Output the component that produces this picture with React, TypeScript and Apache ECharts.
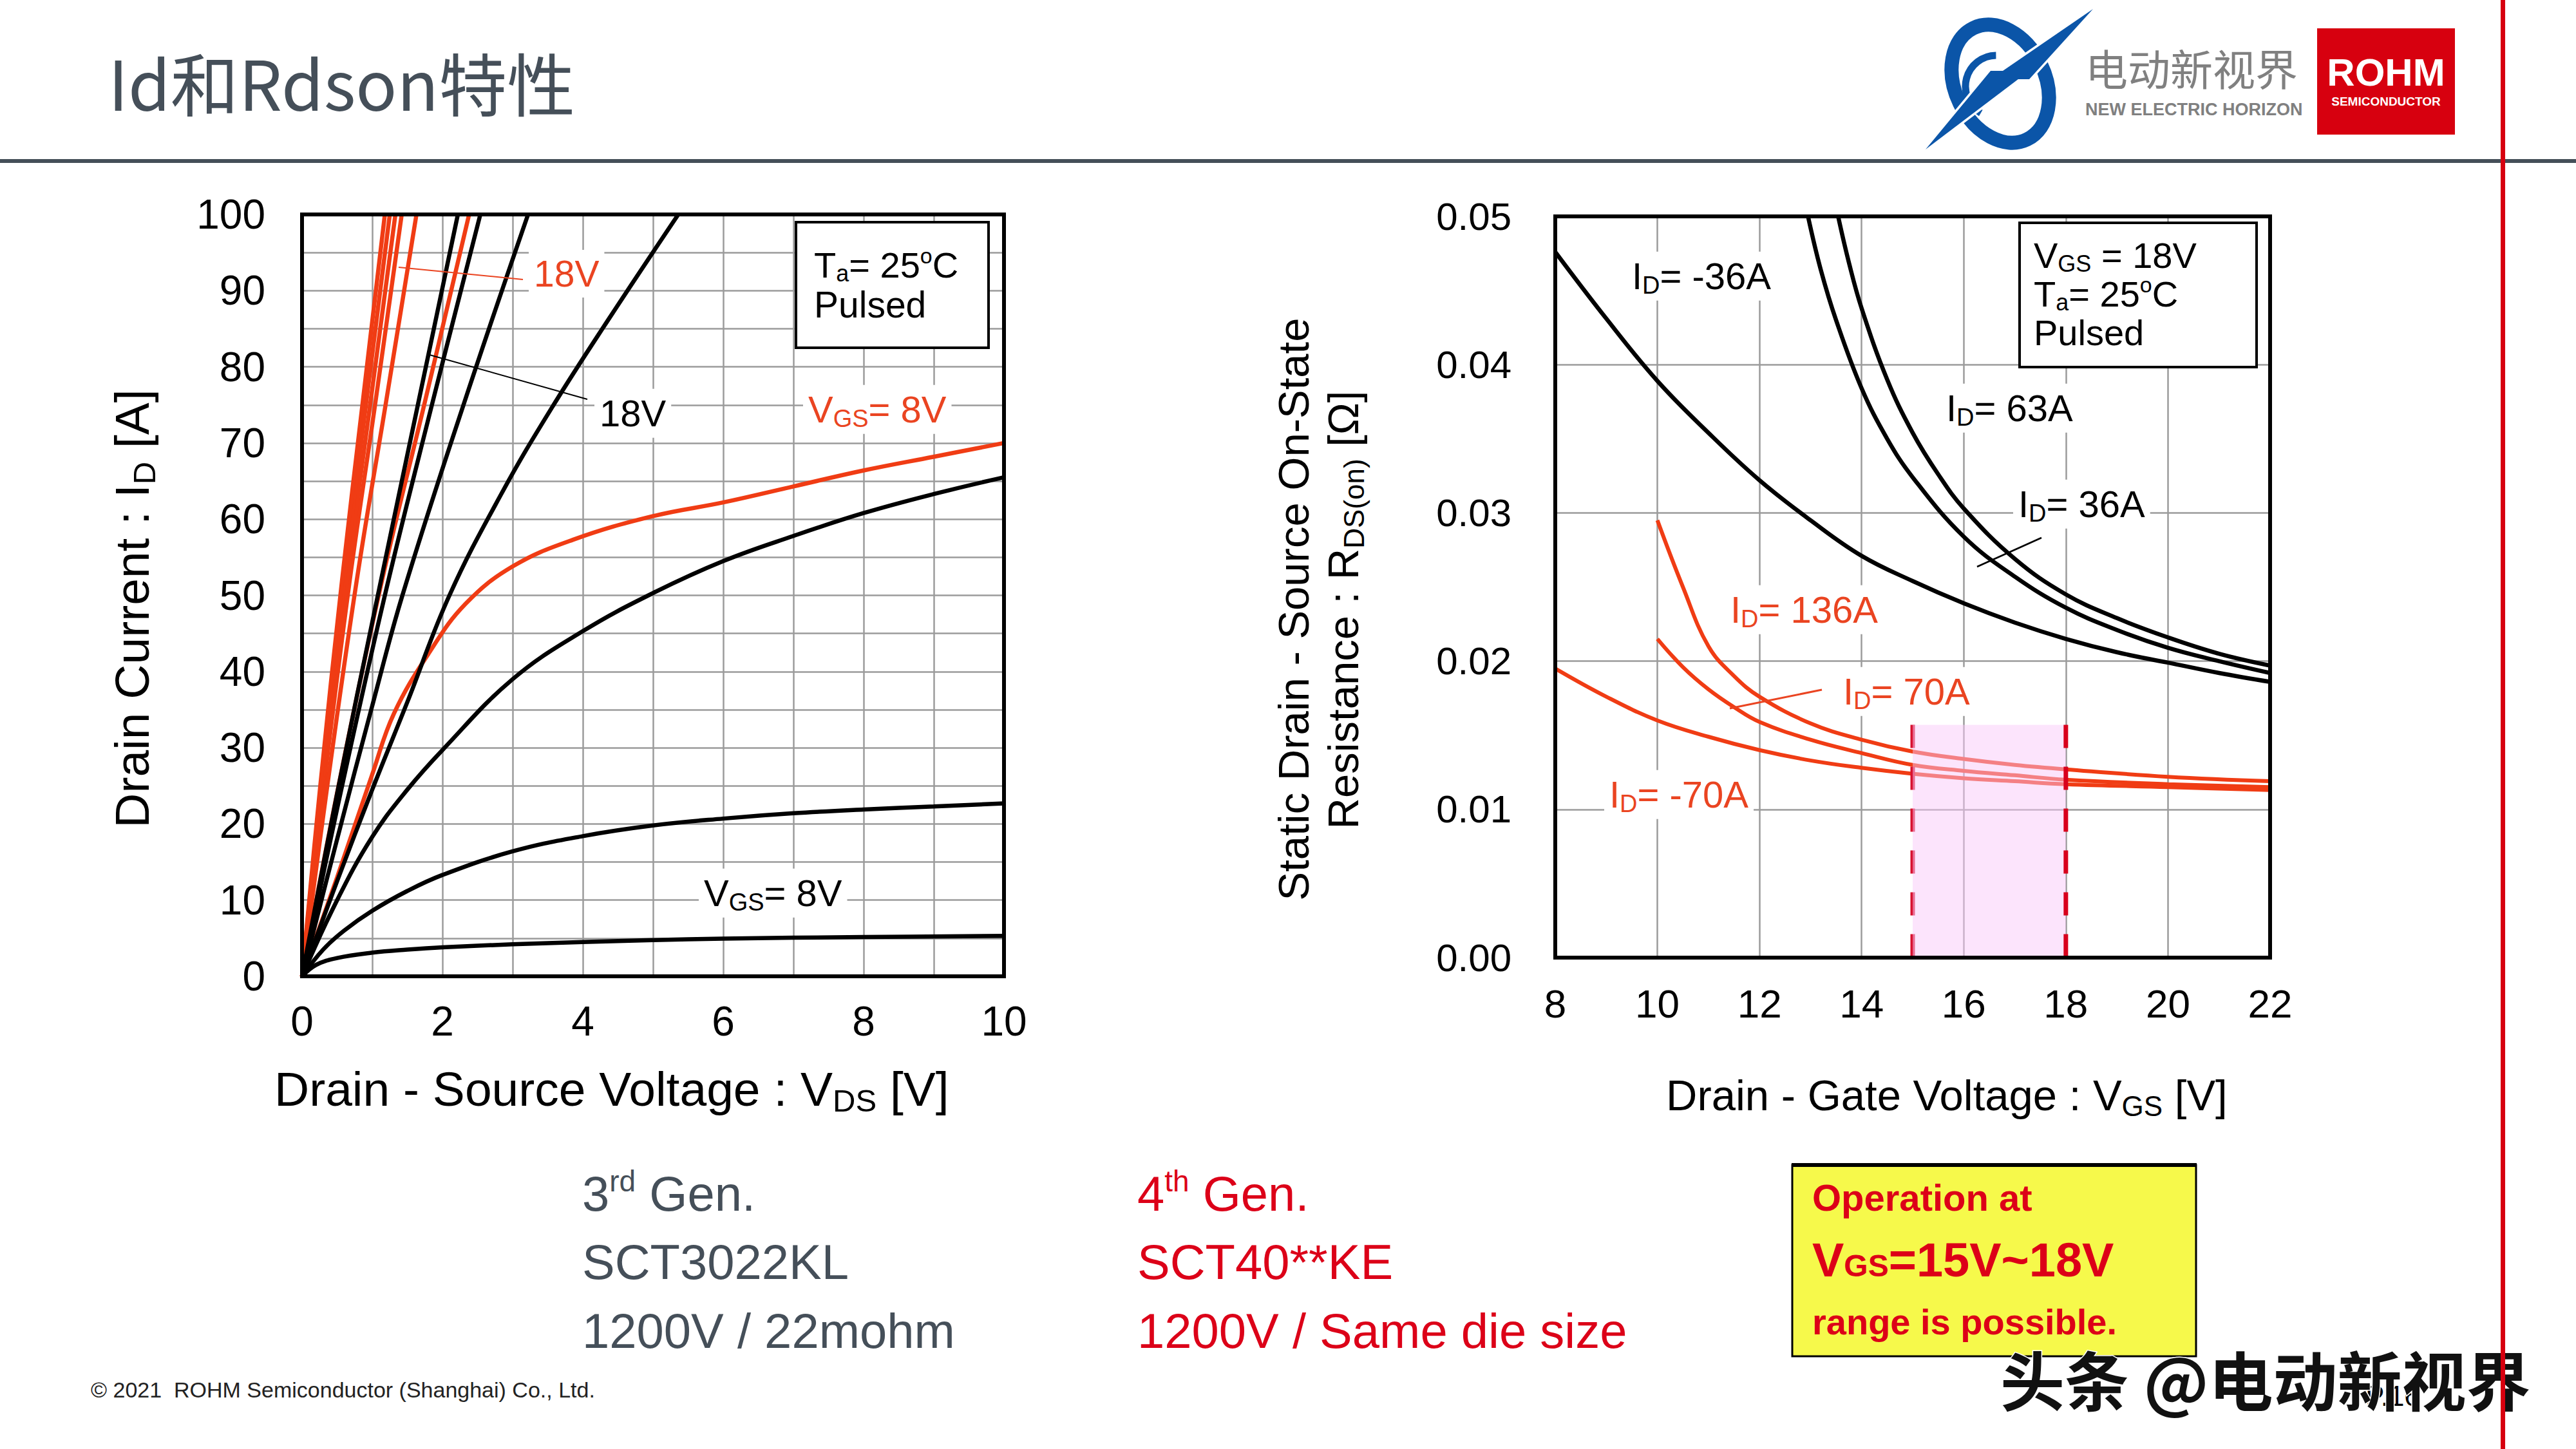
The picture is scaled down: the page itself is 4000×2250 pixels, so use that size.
import React, { useEffect, useRef } from "react";
import * as echarts from "echarts";

// ================= Left chart: Drain current vs drain-source voltage =================
const VDS_TICK_LABELS = [0, 2, 4, 6, 8, 10];
const ID_TICK_LABELS = [0, 10, 20, 30, 40, 50, 60, 70, 80, 90, 100];

// 3rd Gen. SCT3022KL (black curves) : [Vds (V), Id (A)]
const GEN3_VGS_8V = [[0, 0], [0.2, 1.5], [0.5, 2.4], [1, 3.1], [1.5, 3.5], [2, 3.8], [3, 4.2], [4, 4.5], [5, 4.75], [6, 4.95], [8, 5.15], [10, 5.3]];
const GEN3_VGS_10V = [[0, 0], [0.3, 3.5], [0.6, 6], [1, 8.6], [1.5, 11.2], [2, 13.3], [3, 16.4], [4, 18.4], [5, 19.8], [6, 20.7], [7, 21.4], [8, 21.9], [9, 22.3], [10, 22.7]];
const GEN3_VGS_12V = [[0, 0], [0.5, 10], [1, 18.3], [1.5, 24.5], [2, 29.7], [3, 39], [4, 45.3], [5, 50.3], [6, 54.5], [7, 57.8], [8, 60.8], [9, 63.3], [10, 65.5]];
const GEN3_VGS_14V = [[0, 0], [0.5, 12.5], [1, 24.5], [1.5, 36], [2.1, 50], [2.85, 63.5], [3.55, 74.5], [4.35, 86], [5.36, 100]];
const GEN3_VGS_16V = [[0, 0], [0.5, 18], [1, 35.5], [1.43, 50], [2.3, 75], [3.22, 100]];
const GEN3_VGS_18V = [[0, 0], [0.5, 22], [1.18, 50], [1.85, 75], [2.54, 100]];
const GEN3_VGS_20V = [[0, 0], [0.5, 24], [1.08, 50], [1.65, 75], [2.22, 100]];

// 4th Gen. SCT40**KE (red curves)
const GEN4_VGS_8V = [[0, 0], [0.5, 13], [1, 26.5], [1.31, 34.5], [1.82, 42.6], [2.33, 48.9], [3, 53.8], [3.86, 57.3], [5, 60.4], [6, 62.2], [7, 64.3], [8, 66.4], [9, 68.2], [10, 70]];
const GEN4_VGS_10V = [[0, 0], [0.52, 25], [1.14, 52], [1.74, 75], [2.38, 100]];
const GEN4_VGS_12V = [[0, 0], [0.36, 25], [0.78, 52], [1.19, 75], [1.63, 100]];
const GEN4_VGS_14V = [[0, 0], [0.31, 25], [0.68, 52], [1.04, 75], [1.42, 100]];
const GEN4_VGS_16V = [[0, 0], [0.29, 25], [0.64, 52], [0.97, 75], [1.33, 100]];
const GEN4_VGS_18V = [[0, 0], [0.275, 25], [0.6, 52], [0.91, 75], [1.25, 100]];
const GEN4_VGS_20V = [[0, 0], [0.26, 25], [0.57, 52], [0.86, 75], [1.18, 100]];

// ================= Right chart: Rds(on) vs gate voltage =================
const VGS_TICK_LABELS = [8, 10, 12, 14, 16, 18, 20, 22];
const RDS_TICK_LABELS = [0, 0.01, 0.02, 0.03, 0.04, 0.05];

// 3rd Gen. (black) : [Vgs (V), Rds(on) (ohm)]
const RDS_3G_ID_M36A = [[8, 0.0476], [9, 0.0431], [10, 0.0389], [11, 0.0354], [12, 0.0322], [13, 0.0295], [14, 0.0271], [15, 0.0254], [16, 0.0239], [17, 0.0226], [18, 0.0215], [19, 0.0206], [20, 0.0199], [21, 0.0192], [22, 0.0186]];
const RDS_3G_ID_36A = [[12.95, 0.05], [13.2, 0.0464], [13.5, 0.043], [14, 0.0384], [14.5, 0.035], [15, 0.0324], [16, 0.0284], [17, 0.0257], [18, 0.0236], [19, 0.0221], [20, 0.0209], [21, 0.02], [22, 0.0192]];
const RDS_3G_ID_63A = [[13.54, 0.05], [13.75, 0.0469], [14, 0.0438], [14.5, 0.039], [15, 0.0354], [15.5, 0.0326], [16, 0.0303], [17, 0.0269], [18, 0.0245], [19, 0.0229], [20, 0.0216], [21, 0.0205], [22, 0.0197]];
// 4th Gen. (red)
const RDS_4G_ID_136A = [[10, 0.0295], [10.5, 0.025], [11, 0.021], [11.5, 0.019], [12, 0.0176], [13, 0.0158], [14, 0.0147], [15, 0.0139], [16, 0.0134], [17, 0.013], [18, 0.0127], [20, 0.0122], [22, 0.0119]];
const RDS_4G_ID_70A = [[10, 0.0215], [10.5, 0.0196], [11, 0.0181], [11.5, 0.0169], [12, 0.0159], [13, 0.0147], [14, 0.0138], [15, 0.013], [16, 0.0126], [17, 0.0123], [18, 0.012], [20, 0.0117], [22, 0.0115]];
const RDS_4G_ID_M70A = [[8, 0.0195], [9, 0.0176], [10, 0.016], [11, 0.0149], [12, 0.014], [13, 0.0133], [14, 0.0128], [15, 0.0124], [16, 0.0121], [17, 0.0119], [18, 0.0117], [20, 0.0115], [22, 0.0113]];

// recommended operating window of VGS
const OP_RANGE_VGS = [15, 18];
const OP_RANGE_RDS_TOP = 0.0157;

// ================= styling =================
const AR = '"Liberation Sans", Arial, Helvetica, sans-serif';
const CJK = '"Noto Sans CJK SC", "Noto Sans", sans-serif';
const CURVE_RED = "#F03C14";
const LABEL_RED = "#EA4421";
const BRAND_RED = "#DC0018";
const SLATE = "#454F59";
const GRID_GRAY = "#9B9B9B";
const BLUE = "#0B55A8";

const GRID_L = { left: 469, top: 333, width: 1090, height: 1183 };
const GRID_R = { left: 2415, top: 336, width: 1110, height: 1151 };

function rich(F: number, color: string, weight: string = "normal") {
  const b = { fill: color, fontWeight: weight, fontFamily: AR };
  const s = Math.round(F * 0.65);
  const p = Math.round(F * 0.6);
  return {
    n: { ...b, fontSize: F, lineHeight: Math.round(F * 1.2) },
    s: { ...b, fontSize: s, lineHeight: s, verticalAlign: "top", padding: [Math.round(F * 0.52), 0, 0, 0] },
    p: { ...b, fontSize: p, lineHeight: p, verticalAlign: "top", padding: [Math.round(F * 0.04), 0, 0, 0] },
    c: { ...b, fontSize: s, lineHeight: s, verticalAlign: "top", padding: [Math.round(F * 0.4), 0, 0, 0] },
  };
}

function tx(x: number, baseline: number, text: string, F: number, color: string, opt: any = {}) {
  return {
    type: "text",
    z: opt.z ?? 120,
    x: opt.bg ? x - 8 : x,
    y: baseline - 0.35 * F,
    style: {
      text,
      rich: rich(F, color, opt.weight),
      fill: color,
      fontSize: F,
      fontFamily: AR,
      align: opt.align ?? "left",
      verticalAlign: "middle",
      backgroundColor: opt.bg,
      padding: opt.bg ? [3, 8, 3, 8] : 0,
    },
  };
}

function vtx(cx: number, cy: number, text: string, F: number, color: string) {
  return {
    type: "text",
    z: 120,
    x: cx,
    y: cy,
    rotation: Math.PI / 2,
    style: { text, rich: rich(F, color), fill: color, fontSize: F, fontFamily: AR, align: "center", verticalAlign: "middle" },
  };
}

function seg(x1: number, y1: number, x2: number, y2: number, color: string, w: number) {
  return { type: "line", z: 115, shape: { x1, y1, x2, y2 }, style: { stroke: color, lineWidth: w } };
}

function frame(g: any, w: number) {
  return { type: "rect", z: 100, shape: { x: g.left, y: g.top, width: g.width, height: g.height }, style: { fill: "none", stroke: "#000", lineWidth: w } };
}

function curve(name: string, data: number[][], color: string, width: number, axis: number, z: number) {
  return {
    type: "line",
    name,
    data,
    xAxisIndex: axis,
    yAxisIndex: axis,
    symbol: "none",
    showSymbol: false,
    smooth: 0.4,
    silent: true,
    clip: true,
    z,
    lineStyle: { color, width },
  };
}

function buildOption() {
  const gen4 = [
    ["4th Gen VGS=8V", GEN4_VGS_8V], ["4th Gen VGS=10V", GEN4_VGS_10V], ["4th Gen VGS=12V", GEN4_VGS_12V],
    ["4th Gen VGS=14V", GEN4_VGS_14V], ["4th Gen VGS=16V", GEN4_VGS_16V], ["4th Gen VGS=18V", GEN4_VGS_18V],
    ["4th Gen VGS=20V", GEN4_VGS_20V],
  ] as [string, number[][]][];
  const gen3 = [
    ["3rd Gen VGS=8V", GEN3_VGS_8V], ["3rd Gen VGS=10V", GEN3_VGS_10V], ["3rd Gen VGS=12V", GEN3_VGS_12V],
    ["3rd Gen VGS=14V", GEN3_VGS_14V], ["3rd Gen VGS=16V", GEN3_VGS_16V], ["3rd Gen VGS=18V", GEN3_VGS_18V],
    ["3rd Gen VGS=20V", GEN3_VGS_20V],
  ] as [string, number[][]][];
  const rdsBlack = [
    ["3rd Gen ID=-36A", RDS_3G_ID_M36A], ["3rd Gen ID=36A", RDS_3G_ID_36A], ["3rd Gen ID=63A", RDS_3G_ID_63A],
  ] as [string, number[][]][];
  const rdsRed = [
    ["4th Gen ID=136A", RDS_4G_ID_136A], ["4th Gen ID=70A", RDS_4G_ID_70A], ["4th Gen ID=-70A", RDS_4G_ID_M70A],
  ] as [string, number[][]][];

  const series: any[] = [
    ...gen4.map(([n, d]) => curve(n, d, CURVE_RED, 6.5, 0, 2)),
    ...gen3.map(([n, d]) => curve(n, d, "#000", 6.5, 0, 3)),
    ...rdsBlack.map(([n, d]) => curve(n, d, "#000", 6.5, 1, 2)),
    ...rdsRed.map(([n, d]) => curve(n, d, CURVE_RED, 6, 1, 2)),
    {
      type: "custom",
      name: "VGS operating range",
      xAxisIndex: 1,
      yAxisIndex: 1,
      z: 6,
      silent: true,
      data: [[OP_RANGE_VGS[0], OP_RANGE_VGS[1], OP_RANGE_RDS_TOP]],
      encode: { x: [0, 1], y: 2 },
      renderItem: (_p: any, api: any) => {
        const tl = api.coord([api.value(0), api.value(2)]);
        const br = api.coord([api.value(1), 0]);
        return {
          type: "group",
          children: [
            { type: "line", shape: { x1: tl[0], y1: tl[1], x2: tl[0], y2: br[1] }, style: { stroke: "#D8102E", lineWidth: 7, lineDash: [36, 29] } },
            { type: "rect", shape: { x: tl[0], y: tl[1], width: br[0] - tl[0], height: br[1] - tl[1] }, style: { fill: "rgba(249,200,249,0.49)" } },
            { type: "line", shape: { x1: br[0], y1: tl[1], x2: br[0], y2: br[1] }, style: { stroke: "#D8001C", lineWidth: 7, lineDash: [36, 29] } },
          ],
        };
      },
    },
  ];

  const splitLine = { show: true, showMinLine: false, showMaxLine: false, lineStyle: { color: GRID_GRAY, width: 2.5 } };
  const hidden = { axisLine: { show: false }, axisTick: { show: false } };

  const graphic: any[] = [
    // header
    { type: "text", z: 120, x: 168, y: 126, style: { text: "Id和Rdson特性", fontSize: 106, fontFamily: CJK, fill: SLATE, align: "left", verticalAlign: "middle" } },
    { type: "rect", z: 199, shape: { x: 0, y: 247, width: 4000, height: 6 }, style: { fill: "#454F58" } },
    { type: "rect", z: 200, shape: { x: 3883, y: 0, width: 7, height: 2250 }, style: { fill: "#D7000F" } },
    // logo: blue swoosh
    { type: "ellipse", z: 150, x: 3106, y: 130, rotation: 0.45, shape: { cx: 0, cy: 0, rx: 70, ry: 96 }, style: { fill: "none", stroke: BLUE, lineWidth: 22 } },
    { type: "arc", z: 150, x: 3100, y: 134, shape: { cx: 0, cy: 0, r: 48, startAngle: 2.1, endAngle: 4.7 }, style: { fill: "none", stroke: BLUE, lineWidth: 11 } },
    { type: "polygon", z: 151, shape: { points: [[3250, 14], [3151, 123], [3091, 123]] }, style: { fill: BLUE, stroke: "#fff", lineWidth: 7 } },
    { type: "polygon", z: 151, shape: { points: [[3151, 110], [3091, 110], [2990, 232]] }, style: { fill: BLUE, stroke: "#fff", lineWidth: 7 } },
    { type: "polygon", z: 152, shape: { points: [[3250, 14], [3151, 123], [3091, 123]] }, style: { fill: BLUE } },
    { type: "polygon", z: 152, shape: { points: [[3151, 110], [3091, 110], [2990, 232]] }, style: { fill: BLUE } },
    { type: "text", z: 150, x: 3238, y: 104, style: { text: "电动新视界", fontSize: 66, fontFamily: CJK, fill: "#808080", align: "left", verticalAlign: "middle" } },
    { type: "text", z: 150, x: 3238, y: 170, style: { text: "NEW ELECTRIC HORIZON", fontSize: 27, fontWeight: "bold", fontFamily: AR, fill: "#808080", align: "left", verticalAlign: "middle" } },
    { type: "rect", z: 150, shape: { x: 3598, y: 44, width: 214, height: 165 }, style: { fill: "#D7000F" } },
    { type: "text", z: 151, x: 3705, y: 112, style: { text: "ROHM", fontSize: 60, fontWeight: "bold", fontFamily: AR, fill: "#fff", align: "center", verticalAlign: "middle" } },
    { type: "text", z: 151, x: 3705, y: 157, style: { text: "SEMICONDUCTOR", fontSize: 19, fontWeight: "bold", fontFamily: AR, fill: "#fff", align: "center", verticalAlign: "middle" } },

    // ---- left chart decorations ----
    frame(GRID_L, 6),
    { type: "rect", z: 100, shape: { x: 1236, y: 345, width: 299, height: 195 }, style: { fill: "#fff", stroke: "#000", lineWidth: 4 } },
    tx(1264, 431, "{n|T}{s|a}{n|= 25}{p|o}{n|C}", 56, "#000"),
    tx(1264, 493, "{n|Pulsed}", 57, "#000"),
    seg(619, 415, 812, 434, LABEL_RED, 2),
    tx(829, 445, "{n|18V}", 57, LABEL_RED, { bg: "#fff" }),
    seg(667, 551, 912, 620, "#000", 2),
    tx(931, 662, "{n|18V}", 58, "#000", { bg: "#fff" }),
    tx(1255, 656, "{n|V}{s|GS}{n|= 8V}", 58, LABEL_RED, { bg: "#fff" }),
    tx(1093, 1407, "{n|V}{s|GS}{n|= 8V}", 58, "#000", { bg: "#fff" }),
    vtx(205, 945, "{n|Drain Current : I}{s|D}{n| [A]}", 75, "#000"),
    tx(426, 1717, "{n|Drain - Source Voltage : V}{s|DS}{n| [V]}", 75, "#000"),

    // ---- right chart decorations ----
    frame(GRID_R, 6),
    { type: "rect", z: 100, shape: { x: 3136, y: 346, width: 368, height: 224 }, style: { fill: "#fff", stroke: "#000", lineWidth: 4 } },
    tx(3158, 416, "{n|V}{s|GS}{n| = 18V}", 56, "#000"),
    tx(3158, 476, "{n|T}{s|a}{n|= 25}{p|o}{n|C}", 56, "#000"),
    tx(3158, 536, "{n|Pulsed}", 56, "#000"),
    tx(2534, 449, "{n|I}{s|D}{n|= -36A}", 58, "#000", { bg: "#fff" }),
    tx(3022, 654, "{n|I}{s|D}{n|= 63A}", 58, "#000", { bg: "#fff" }),
    seg(3170, 835, 3070, 880, "#000", 2.5),
    tx(3134, 803, "{n|I}{s|D}{n|= 36A}", 58, "#000", { bg: "#fff" }),
    tx(2687, 967, "{n|I}{s|D}{n|= 136A}", 58, LABEL_RED, { bg: "#fff" }),
    seg(2829, 1071, 2686, 1100, LABEL_RED, 3),
    tx(2862, 1094, "{n|I}{s|D}{n|= 70A}", 58, LABEL_RED, { bg: "#fff" }),
    tx(2499, 1254, "{n|I}{s|D}{n|= -70A}", 58, LABEL_RED, { bg: "#fff" }),
    vtx(2008, 946, "{n|Static Drain - Source On-State}", 67, "#000"),
    vtx(2085, 947, "{n|Resistance : R}{s|DS(on)}{n| [Ω]}", 67, "#000"),
    tx(2587, 1724, "{n|Drain - Gate Voltage : V}{s|GS}{n| [V]}", 67, "#000"),

    // ---- bottom texts ----
    tx(904, 1880, "{n|3}{p|rd}{n| Gen.}", 76, SLATE),
    tx(904, 1986, "{n|SCT3022KL}", 76, SLATE),
    tx(904, 2093, "{n|1200V / 22mohm}", 76, SLATE),
    tx(1766, 1880, "{n|4}{p|th}{n| Gen.}", 76, BRAND_RED),
    tx(1766, 1986, "{n|SCT40**KE}", 76, BRAND_RED),
    tx(1766, 2093, "{n|1200V / Same die size}", 76, BRAND_RED),
    tx(141, 2170, "{n|© 2021  ROHM Semiconductor (Shanghai) Co., Ltd.}", 34, "#222"),

    // yellow note
    { type: "rect", z: 100, shape: { x: 2783, y: 1809, width: 627, height: 297 }, style: { fill: "#F6F94B", stroke: "#000", lineWidth: 3 } },
    { type: "rect", z: 101, shape: { x: 2782, y: 1806, width: 629, height: 6 }, style: { fill: "#000" } },
    tx(2814, 1880, "{n|Operation at}", 58, BRAND_RED, { weight: "bold" }),
    tx(2814, 1982, "{n|V}{c|GS}{n|=15V~18V}", 74, BRAND_RED, { weight: "bold" }),
    tx(2814, 2072, "{n|range is possible.}", 56, BRAND_RED, { weight: "bold" }),

    // page number & watermark
    tx(3673, 2183, "{n|P.16}", 44, "#000", { z: 130 }),
    { type: "text", z: 141, x: 3106, y: 2139, style: { text: "头条 @电动新视界", fontSize: 100, fontWeight: "bold", fontFamily: CJK, fill: "#111", stroke: "#fff", lineWidth: 3, align: "left", verticalAlign: "middle" } },
  ];

  return {
    animation: false,
    backgroundColor: "#fff",
    grid: [
      { ...GRID_L, show: false, outerBoundsMode: "none" },
      { ...GRID_R, show: false, outerBoundsMode: "none" },
    ],
    xAxis: [
      {
        type: "value", gridIndex: 0, min: 0, max: 10, interval: 1, ...hidden, splitLine,
        axisLabel: { formatter: (v: number) => (VDS_TICK_LABELS.includes(v) ? String(v) : ""), fontSize: 64, fontFamily: AR, color: "#000", margin: 38 },
      },
      {
        type: "value", gridIndex: 1, min: 8, max: 22, interval: 2, ...hidden, splitLine,
        axisLabel: { formatter: (v: number) => (VGS_TICK_LABELS.includes(v) ? String(v) : ""), fontSize: 62, fontFamily: AR, color: "#000", margin: 40 },
      },
    ],
    yAxis: [
      {
        type: "value", gridIndex: 0, min: 0, max: 100, interval: 5, ...hidden, splitLine,
        axisLabel: { formatter: (v: number) => (ID_TICK_LABELS.includes(v) ? String(v) : ""), fontSize: 64, fontFamily: AR, color: "#000", margin: 57 },
      },
      {
        type: "value", gridIndex: 1, min: 0, max: 0.05, interval: 0.01, ...hidden, splitLine,
        axisLabel: {
          formatter: (v: number) => (RDS_TICK_LABELS.some((t) => Math.abs(t - v) < 1e-9) ? v.toFixed(2) : ""),
          fontSize: 60, fontFamily: AR, color: "#000", margin: 68,
        },
      },
    ],
    series,
    graphic: { elements: graphic },
  };
}

export default function App() {
  const ref = useRef<HTMLDivElement>(null);
  useEffect(() => {
    if (!ref.current) return;
    const chart = echarts.init(ref.current, null, { renderer: "svg" });
    chart.setOption(buildOption() as any);
    return () => chart.dispose();
  }, []);
  return (
    <div
      ref={ref}
      style={{ position: "absolute", left: 0, top: 0, width: 4000, height: 2250, background: "#fff" }}
    />
  );
}
